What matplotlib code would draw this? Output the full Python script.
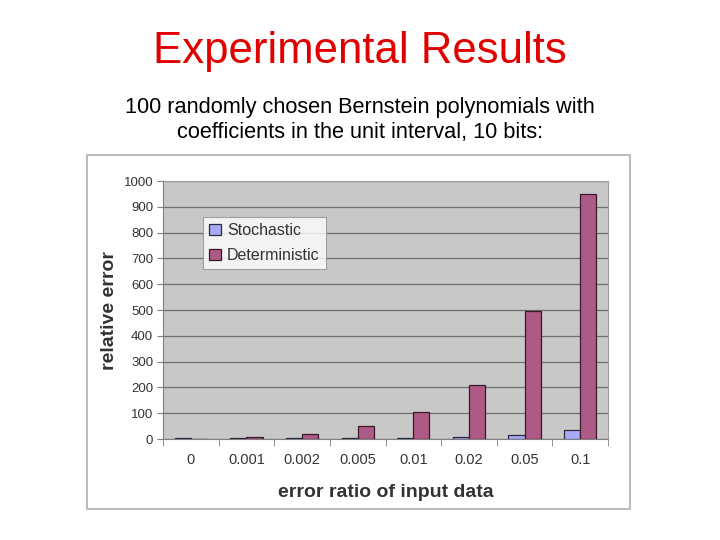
import numpy as np
import matplotlib
matplotlib.use("Agg")
import matplotlib.pyplot as plt
from matplotlib.patches import Rectangle

plt.rcParams['font.family'] = ['Liberation Sans', 'DejaVu Sans']

# data
ratios = ['0', '0.001', '0.002', '0.005', '0.01', '0.02', '0.05', '0.1']
stochastic = [2, 2, 2, 2, 2, 7, 17, 35]
deterministic = [0, 8, 18, 50, 105, 208, 495, 948]
yticks = [0, 100, 200, 300, 400, 500, 600, 700, 800, 900, 1000]

W, H = 720, 540
fig = plt.figure(figsize=(7.2, 5.4), dpi=100)

# slide title and subtitle
fig.text(360 / W, 1 - 52 / H, 'Experimental Results', color='#E00000',
         fontsize=31.5, ha='center', va='center')
fig.text(360 / W, 1 - 107 / H, '100 randomly chosen Bernstein polynomials with',
         fontsize=15.7, ha='center', va='center')
fig.text(360 / W, 1 - 133 / H, 'coefficients in the unit interval, 10 bits:',
         fontsize=15.7, ha='center', va='center')

# chart frame
fig.patches.append(Rectangle((87 / W, 1 - 509 / H), (630 - 87) / W, (509 - 155) / H,
                             transform=fig.transFigure, facecolor='white',
                             edgecolor='#B0B0B0', lw=1.2, zorder=-1))

left, right, top, bottom = 163, 608, 181, 439
ax = fig.add_axes([left / W, 1 - bottom / H, (right - left) / W, (bottom - top) / H])
ax.set_facecolor('#C8C8C8')

x = np.arange(len(ratios))
bw = 0.29
ax.bar(x - bw / 2, stochastic, bw, color='#A9A9F5', edgecolor='#2A2A40', lw=0.9,
       label='Stochastic', zorder=3)
ax.bar(x + bw / 2, deterministic, bw, color='#AE5A86', edgecolor='#3A1A2A', lw=0.9,
       label='Deterministic', zorder=3)

ax.set_xlim(-0.5, len(ratios) - 0.5)
ax.set_ylim(0, 1000)
ax.set_yticks(yticks)
ax.yaxis.grid(True, color='#707070', lw=0.9, zorder=1)
ax.set_axisbelow(True)
ax.tick_params(axis='y', labelsize=9.5, labelcolor='#333333', length=4,
               color='#808080', pad=3)
ax.set_xticks(x)
ax.set_xticklabels(ratios)
ax.set_xticks(np.arange(len(ratios) + 1) - 0.5, minor=True)
ax.tick_params(axis='x', which='major', length=0, labelsize=10.5,
               labelcolor='#333333', pad=10)
ax.tick_params(axis='x', which='minor', length=5, color='#808080')

for s in ['top', 'right']:
    ax.spines[s].set_visible(False)
ax.spines['left'].set_color('#808080')
ax.spines['bottom'].set_color('#808080')
ax.plot([1, 1], [0, 1], transform=ax.transAxes, color='#A0A0A0', lw=0.8, clip_on=False)
ax.plot([0, 1], [1, 1], transform=ax.transAxes, color='#A0A0A0', lw=0.8, clip_on=False)

ax.set_ylabel('relative error', fontsize=14, fontweight='bold', color='#333333',
              labelpad=4)
ax.set_xlabel('error ratio of input data', fontsize=14, fontweight='bold',
              color='#333333', labelpad=12)

leg = ax.legend(loc='upper left', bbox_to_anchor=((203 - left) / (right - left),
                1 - (217 - top) / (bottom - top)), frameon=True, fancybox=False,
                fontsize=11.5, handlelength=0.7, handleheight=0.7, handletextpad=0.4,
                borderpad=0.4, labelspacing=0.6, borderaxespad=0)
leg.get_frame().set_edgecolor('#909090')
leg.get_frame().set_linewidth(0.8)
for t in leg.get_texts():
    t.set_color('#333333')

fig.savefig('out.png', dpi=100)
